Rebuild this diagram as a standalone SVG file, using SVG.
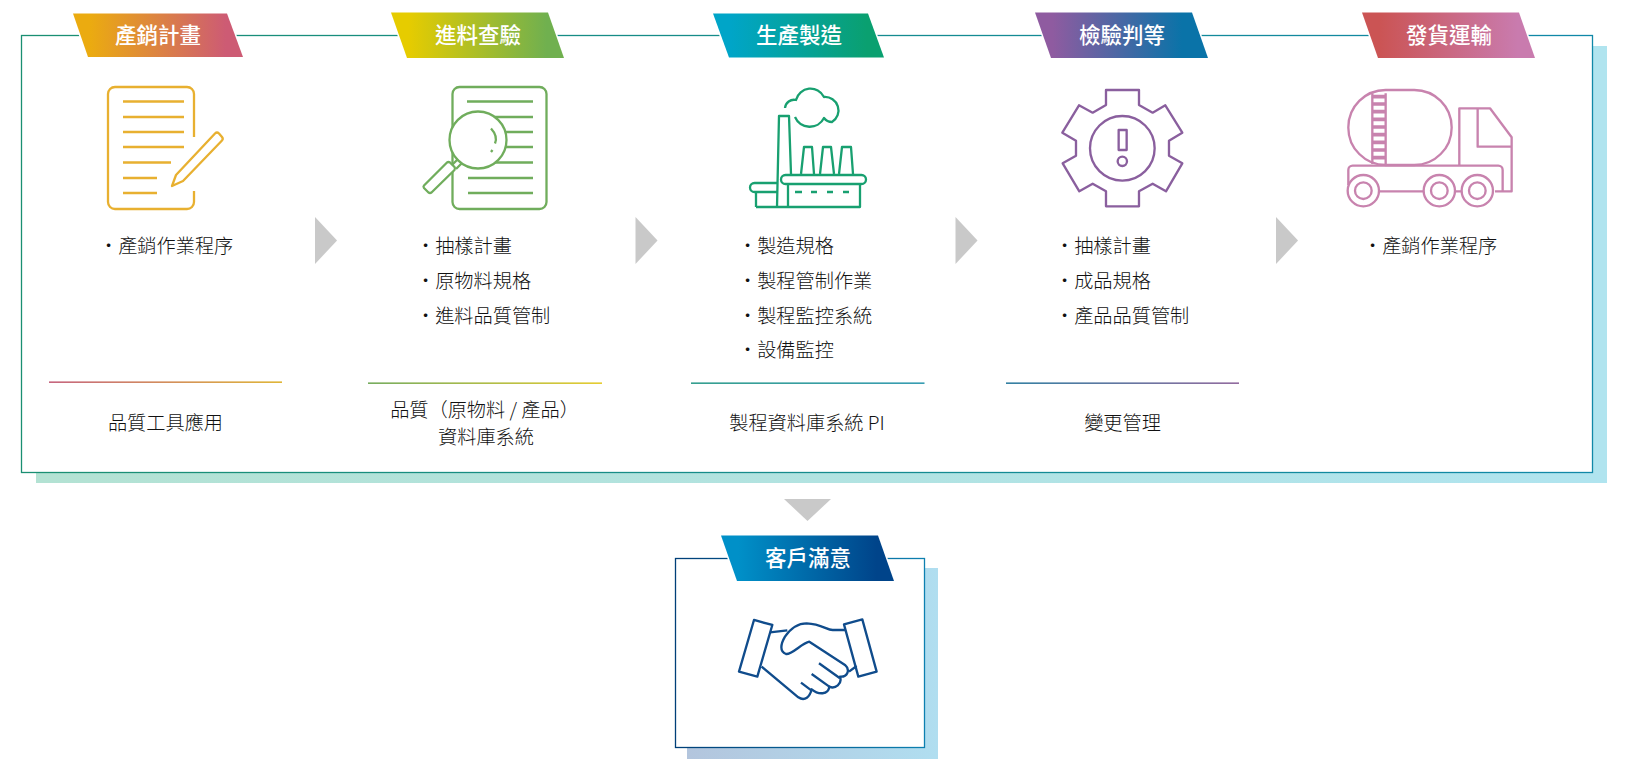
<svg xmlns="http://www.w3.org/2000/svg" width="1627" height="775" viewBox="0 0 1627 775">
<style>
text{font-family:"Noto Sans CJK TC","Noto Sans CJK SC",sans-serif;}
.tab{stroke:#fff;stroke-width:3;paint-order:stroke;}
.tt{font-size:21.5px;font-weight:500;fill:#fff;text-anchor:middle;}
.b{font-size:19.2px;font-weight:300;fill:#111;}
.c{font-size:19.2px;font-weight:300;fill:#111;text-anchor:middle;}
.i{fill:none;stroke-width:2.300;stroke-linecap:butt;stroke-linejoin:round;}
.i6{fill:none;stroke-width:7;stroke-linejoin:round;}
.arr{fill:#c9c9c9;}
</style>
<defs>
<linearGradient id="g1"><stop offset=".1" stop-color="#ebab10"/><stop offset=".9" stop-color="#cd5b74"/></linearGradient>
<linearGradient id="g2"><stop offset=".1" stop-color="#e6cc00"/><stop offset=".9" stop-color="#70b04f"/></linearGradient>
<linearGradient id="g3"><stop offset=".1" stop-color="#00a5c8"/><stop offset=".9" stop-color="#0aa070"/></linearGradient>
<linearGradient id="g4"><stop offset=".1" stop-color="#8f5ba0"/><stop offset=".85" stop-color="#0a73a8"/></linearGradient>
<linearGradient id="g5"><stop offset=".1" stop-color="#cb5454"/><stop offset=".9" stop-color="#c97bae"/></linearGradient>
<linearGradient id="g6"><stop offset=".1" stop-color="#0090c8"/><stop offset=".9" stop-color="#00448a"/></linearGradient>
<linearGradient id="fs"><stop offset="0" stop-color="#1a8f72"/><stop offset="1" stop-color="#1088a8"/></linearGradient>
<linearGradient id="fb"><stop offset="0" stop-color="#b3e2d3"/><stop offset="1" stop-color="#b0e4ef"/></linearGradient>
<linearGradient id="bs"><stop offset="0" stop-color="#003f78"/><stop offset="1" stop-color="#0d80b0"/></linearGradient>
<linearGradient id="bb"><stop offset="0" stop-color="#b3c5dd"/><stop offset="1" stop-color="#b0def0"/></linearGradient>
<linearGradient id="l1"><stop offset="0" stop-color="#b84060"/><stop offset="1" stop-color="#d8a408"/></linearGradient>
<linearGradient id="l2"><stop offset="0" stop-color="#559838"/><stop offset="1" stop-color="#e0c000"/></linearGradient>
<linearGradient id="l3"><stop offset="0" stop-color="#058874"/><stop offset="1" stop-color="#0885a0"/></linearGradient>
<linearGradient id="l4"><stop offset="0" stop-color="#02628c"/><stop offset="1" stop-color="#784888"/></linearGradient>
</defs>

<g id="main-frame">
<rect x="36" y="46" width="1571" height="437" fill="url(#fb)"/>
<rect x="21.500" y="35.500" width="1571" height="437" fill="#fff" stroke="url(#fs)" stroke-width="1.300"/>
</g>

<g id="connectors">
<polygon class="arr" points="315,217 337,240.500 315,264"/>
<polygon class="arr" points="635.500,217 657.500,240.500 635.500,264"/>
<polygon class="arr" points="955.500,217 977.500,240.500 955.500,264"/>
<polygon class="arr" points="1276,217 1298,240.500 1276,264"/>
<polygon class="arr" points="784,499 831,499 807.500,521"/>
</g>

<g id="step-1">
<polygon class="tab" points="73,13.500 227,13.500 243,57 88,57" fill="url(#g1)"/>
<text class="tt" x="158" y="43">產銷計畫</text>
<g class="i" stroke="#e8b030">
<path d="M194 137V94a7 7 0 0 0-7-7H115a7 7 0 0 0-7 7V202a7 7 0 0 0 7 7H187a7 7 0 0 0 7-7V191"/>
<path d="M123 101.500H184M123 117H184M123 132H184M123 147H184M123 162.500H171M123 178H157M123 193H157"/>
<path d="M172 186L176 175L215 133.500Q217 131.500 219 133.500L222 137Q223.500 139 222 140.500L183 181Z"/>
</g>
<text class="b" x="99" y="253">・產銷作業程序</text>
<rect x="49" y="381.500" width="233" height="1.300" fill="url(#l1)"/>
<text class="c" x="165.500" y="430">品質工具應用</text>
</g>

<g id="step-2">
<polygon class="tab" points="391,12.500 548,12.500 564,58 407,58" fill="url(#g2)"/>
<text class="tt" x="478" y="43">進料查驗</text>
<g class="i" stroke="#70ad5c">
<rect x="452.500" y="87" width="94" height="122" rx="7"/>
<path d="M467 101.500H533M495 117H533M505 132H533M506 147H533M495 162.500H533M468 178H533M468 193H533"/>
<circle cx="478" cy="140" r="28.500" fill="#fff"/>
<path d="M452 165L458 159M456 169L462 163"/>
<path d="M424 185.500L447 162.500Q448.500 161.500 450 162.500L454.500 167Q455.500 168.500 454.500 170L431.500 192.500Q430 193.500 428.500 192.500L424 188Q423 186.500 424 185.500Z" fill="#fff"/>
<path d="M491 128.500Q498 136 495 143.500M492.500 150L491 152"/>
</g>
<text class="b" x="416" y="253">・抽樣計畫</text>
<text class="b" x="416" y="288">・原物料規格</text>
<text class="b" x="416" y="323">・進料品質管制</text>
<rect x="368" y="382.500" width="234" height="1.300" fill="url(#l2)"/>
<text class="c" x="484.500" y="417">品質（原物料 / 產品）</text>
<text class="c" x="486" y="444">資料庫系統</text>
</g>

<g id="step-3">
<polygon class="tab" points="713,13.500 868,13.500 884,57.500 729,57.500" fill="url(#g3)"/>
<text class="tt" x="799" y="43">生產製造</text>
<g class="i" stroke="#18a070">
<path d="M785 108A9 9 0 0 1 796 100A15 15 0 0 1 824 97A13.500 13.500 0 0 1 832 122Q827 122 824 118A16 16 0 0 1 795 117"/>
<path d="M777 207L779 116H789L791 174M788 184V207"/>
<path d="M756 207H860V184M756 192V207"/>
<rect x="781" y="175" width="85" height="9" rx="4.500"/>
<path d="M777 183H754.500a4.500 4.500 0 0 0 0 9H777"/>
<path d="M801 174L804 147H812L814 174M820 174L823 147H831L834 174M839 174L842 147H851L853 174"/>
<path d="M795 192H802M811 192H817M827 192H833M843 192H849"/>
</g>
<text class="b" x="738" y="253">・製造規格</text>
<text class="b" x="738" y="288">・製程管制作業</text>
<text class="b" x="738" y="323">・製程監控系統</text>
<text class="b" x="738" y="357">・設備監控</text>
<rect x="691" y="382.500" width="233.500" height="1.300" fill="url(#l3)"/>
<text class="c" x="807" y="430">製程資料庫系統 PI</text>
</g>

<g id="step-4">
<polygon class="tab" points="1035,12.500 1192,12.500 1208,58 1051,58" fill="url(#g4)"/>
<text class="tt" x="1122" y="43">檢驗判等</text>
<g transform="translate(1020 0) scale(.3333)" class="i6" stroke="#8a5f9e">
<polygon points="258,270 357,270 357,315 398,338 436,316 487,398 447,422 447,467 487,490 438,574 398,551 357,574 357,619 258,619 258,574 218,551 178,574 128,490 168,467 168,422 127,398 177,316 218,338 258,315"/>
<circle cx="307" cy="445" r="97"/>
<rect x="296" y="390" width="24" height="60"/>
<circle cx="307" cy="484" r="14"/>
</g>
<text class="b" x="1055" y="253">・抽樣計畫</text>
<text class="b" x="1055" y="288">・成品規格</text>
<text class="b" x="1055" y="323">・產品品質管制</text>
<rect x="1006" y="382.500" width="233" height="1.300" fill="url(#l4)"/>
<text class="c" x="1122.500" y="430">變更管理</text>
</g>

<g id="step-5">
<polygon class="tab" points="1362,12.500 1519,12.500 1535,58 1378,58" fill="url(#g5)"/>
<text class="tt" x="1449" y="43">發貨運輸</text>
<g transform="translate(1300 0) scale(.3333)" class="i6" stroke="#c883ae">
<rect x="145" y="270" width="310" height="225" rx="112"/>
<path d="M217 280V492M257 280V492"/>
<path d="M217 290H257M217 312H257M217 335H257M217 358H257M217 381H257M217 404H257M217 427H257M217 450H257M217 473H257" stroke-width="11"/>
<path d="M478 495V325H570L635 412V574H585M533 325V440H635"/>
<path d="M145 555V510a13 13 0 0 1 13-13H595a13 13 0 0 1 13 13V574M238 574H372M465 574H485"/>
<circle cx="190" cy="572" r="47"/><circle cx="190" cy="572" r="25"/>
<circle cx="418" cy="572" r="47"/><circle cx="418" cy="572" r="25"/>
<circle cx="532" cy="572" r="47"/><circle cx="532" cy="572" r="25"/>
</g>
<text class="b" x="1363" y="253">・產銷作業程序</text>
</g>

<g id="customer">
<rect x="687" y="568" width="251" height="191" fill="url(#bb)"/>
<rect x="675.500" y="558.500" width="249" height="189" fill="#fff" stroke="url(#bs)" stroke-width="1.300"/>
<polygon class="tab" points="721,535.500 878,535.500 894,581 737,581" fill="url(#g6)"/>
<text class="tt" x="808" y="566">客戶滿意</text>
<g transform="translate(650 480) scale(.3333)" class="i6" stroke="#104c8c">
<polygon points="312,420 367,435 322,590 267,575"/>
<polygon points="582,433 637,418 680,575 625,590"/>
<path d="M360 457L412 451M585 450H548C530 450 515 432 470 430C440 430 422 445 405 470C392 492 388 515 408 522C425 525 455 490 478 485L585 555C602 570 592 592 570 590C578 612 555 628 538 620C535 645 505 645 485 628C480 650 465 665 445 652L335 560"/>
<path d="M507 550L570 595M485 582L538 620M453 608L485 632M597 575L620 558"/>
</g>
</g>
</svg>
